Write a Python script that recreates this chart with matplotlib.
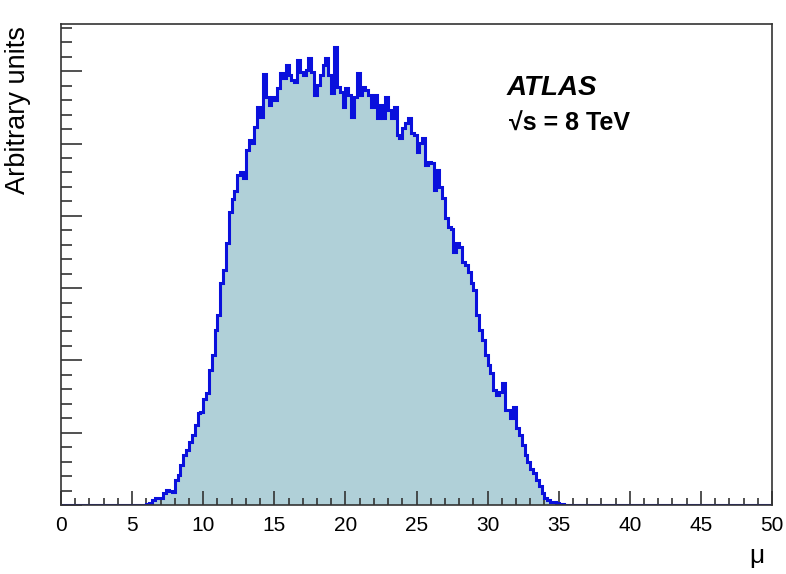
import numpy as np
import matplotlib
matplotlib.use("Agg")
import matplotlib.pyplot as plt
from matplotlib.ticker import MultipleLocator, NullFormatter

plt.rcParams['font.family'] = ['Liberation Sans', 'DejaVu Sans']

# histogram of mu, bins of width 0.2, first filled bin starts at mu = 6.0
bin_width = 0.2
first_edge = 6.0
counts = [
    1, 2, 5, 7, 7, 7, 12, 15, 14, 13,
    25, 30, 40, 50, 55, 63, 70, 80, 92, 93,
    106, 112, 135, 150, 175, 190, 222, 235, 262, 293,
    306, 314, 330, 333, 327, 355, 365, 362, 378, 398,
    388, 431, 408, 400, 408, 405, 417, 432, 427, 440,
    430, 425, 423, 445, 433, 430, 435, 447, 433, 410,
    420, 430, 440, 447, 430, 412, 458, 418, 413, 398,
    417, 410, 388, 408, 432, 410, 418, 415, 410, 398,
    410, 387, 400, 387, 408, 395, 387, 398, 370, 367,
    377, 382, 387, 372, 370, 353, 362, 367, 340, 343,
    342, 315, 335, 318, 307, 287, 278, 276, 253, 262,
    258, 243, 240, 233, 222, 215, 190, 175, 165, 150,
    140, 132, 115, 110, 113, 122, 95, 95, 87, 98,
    77, 70, 60, 50, 43, 36, 32, 25, 19, 12,
    7, 5, 3, 3, 2, 1, 1,
]
x_min, x_max = 0, 50
y_major = 72.3
y_max = 481

edges = np.arange(x_min, x_max + bin_width / 2, bin_width)
values = np.zeros(len(edges) - 1)
start = int(round((first_edge - x_min) / bin_width))
values[start:start + len(counts)] = counts

fig = plt.figure(figsize=(7.86, 5.74), dpi=100)
ax = fig.add_axes([61 / 786, 69 / 574, 711 / 786, 481 / 574])

ax.stairs(values, edges, fill=True, color='#b0d0d8', zorder=1)
ax.stairs(values, edges, color='#0a10dc', linewidth=2.2, zorder=2)

ax.set_xlim(x_min, x_max)
ax.set_ylim(0, y_max)

ax.xaxis.set_major_locator(MultipleLocator(5))
ax.xaxis.set_minor_locator(MultipleLocator(1))
ax.yaxis.set_major_locator(MultipleLocator(y_major))
ax.yaxis.set_minor_locator(MultipleLocator(y_major / 5))
ax.yaxis.set_major_formatter(NullFormatter())

ax.tick_params(axis='both', which='both', direction='in', color='#333333', width=1.2)
ax.tick_params(axis='x', which='major', length=10, pad=8, labelsize=15)
ax.tick_params(axis='x', which='minor', length=5)
ax.tick_params(axis='y', which='major', length=15)
ax.tick_params(axis='y', which='minor', length=8)

for s in ax.spines.values():
    s.set_color('#333333')
    s.set_linewidth(1.2)

fig.text(0.006, 0.955, 'Arbitrary units', rotation=90, ha='left', va='top', fontsize=19.5)
fig.text(0.972, 0.019, 'μ', ha='right', va='baseline', fontsize=19)

ax.text(0.627, 0.852, 'ATLAS', transform=ax.transAxes, fontsize=20,
        fontweight='bold', fontstyle='italic')
ax.text(0.630, 0.778, '√s = 8 TeV', transform=ax.transAxes,
        fontsize=18, fontweight='bold')

fig.savefig('out.png', dpi=100)
